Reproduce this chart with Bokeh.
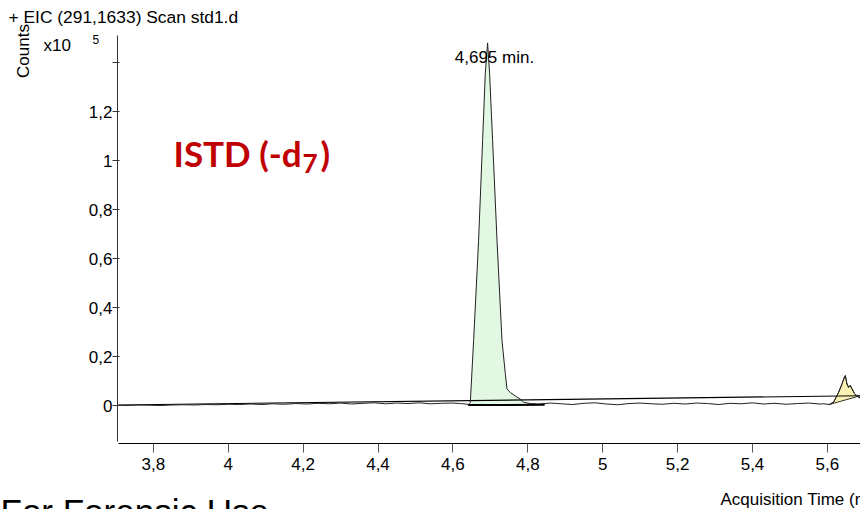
import math
from bokeh.plotting import figure
from bokeh.models import Range1d, FixedTicker
from bokeh.core.properties import value
from bokeh.embed import file_html
from bokeh.resources import INLINE

# ---------------- data ----------------
# chromatogram trace (time in min, counts x10^5)
t_pre = [3.707, 3.73, 3.76, 3.79, 3.82, 3.85, 3.88, 3.91, 3.94, 3.97, 4.00, 4.03,
         4.06, 4.09, 4.12, 4.15, 4.18, 4.21, 4.24, 4.27, 4.30, 4.33, 4.36, 4.39,
         4.42, 4.45, 4.48, 4.51, 4.54, 4.57, 4.60, 4.62, 4.635]
v_pre = [0.001, 0.000, 0.002, 0.001, 0.000, 0.002, 0.003, 0.002, 0.004, 0.003, 0.005, 0.004,
         0.006, 0.004, 0.007, 0.005, 0.008, 0.006, 0.009, 0.007, 0.010, 0.006, 0.009, 0.011,
         0.007, 0.010, 0.008, 0.011, 0.007, 0.009, 0.010, 0.008, 0.006]

t_peak = [4.641, 4.6465, 4.6553, 4.6686, 4.6793, 4.6865, 4.6926, 4.698, 4.706,
          4.7178, 4.7311, 4.7399, 4.7444, 4.7533, 4.7712, 4.780, 4.789]
v_peak = [0.004, 0.013, 0.265, 0.673, 1.082, 1.355, 1.480, 1.355, 1.082,
          0.673, 0.265, 0.131, 0.068, 0.053, 0.034, 0.027, 0.013]

t_post = [4.807, 4.83, 4.86, 4.89, 4.92, 4.95, 4.98, 5.01, 5.04, 5.07, 5.10, 5.13,
          5.16, 5.19, 5.22, 5.25, 5.28, 5.31, 5.34, 5.37, 5.40, 5.43, 5.46, 5.49,
          5.52, 5.55, 5.58, 5.59]
v_post = [0.008, 0.006, 0.010, 0.007, 0.004, 0.009, 0.011, 0.006, 0.003, 0.008, 0.010, 0.007,
          0.005, 0.009, 0.006, 0.010, 0.008, 0.004, 0.009, 0.007, 0.011, 0.006, 0.009, 0.005,
          0.008, 0.010, 0.006, 0.007]

t_peak2 = [5.605, 5.6165, 5.630, 5.639, 5.6459, 5.6478, 5.6523, 5.6566, 5.6611,
           5.6657, 5.6726, 5.6833, 5.688]
v_peak2 = [0.004, 0.0135, 0.054, 0.088, 0.118, 0.122, 0.088, 0.074, 0.082,
           0.068, 0.048, 0.034, 0.030]

# integration baselines
base1_t = [4.641, 4.845]
base1_v = [0.002, 0.003]
base2_t = [5.605, 5.688]
base2_v = [0.004, 0.040]

# long straight reference line
ref_t = [3.707, 5.688]
ref_v = [0.002, 0.040]

peak_rt = 4.695
peak_text = "4,695 min."

x_ticks = [3.8, 4.0, 4.2, 4.4, 4.6, 4.8, 5.0, 5.2, 5.4, 5.6]
x_tick_labels = ["3,8", "4", "4,2", "4,4", "4,6", "4,8", "5", "5,2", "5,4", "5,6"]
y_ticks = [0, 0.2, 0.4, 0.6, 0.8, 1.0, 1.2, 1.4]
y_tick_labels = ["0", "0,2", "0,4", "0,6", "0,8", "1", "1,2", ""]

# ---------------- layout (pixel <-> data) ----------------
W, H = 860, 509
SX, SY = 374.5, 245.0          # px per minute, px per 1e5 counts
X_START = 3.8 - 152.8 / SX     # data x at canvas left
Y_TOP = 405.0 / SY             # data y at canvas top


def tx(X):
    return X_START + X / SX


def ty(Y):
    return (405.0 - Y) / SY


FONT = "Liberation Sans"

p = figure(width=W, height=H, output_backend="svg", toolbar_location=None,
           x_range=Range1d(X_START, tx(W)), y_range=Range1d(ty(H), Y_TOP),
           min_border=0, min_border_left=0, min_border_right=0,
           min_border_top=0, min_border_bottom=0)
p.outline_line_color = None
p.xgrid.visible = False
p.ygrid.visible = False
p.background_fill_color = "white"
p.border_fill_color = "white"

xa = p.xaxis[0]
xa.fixed_location = ty(443)
xa.bounds = (tx(118), tx(W))
xa.ticker = FixedTicker(ticks=x_ticks)
xa.major_label_overrides = dict(zip(x_ticks, x_tick_labels))
xa.minor_tick_line_color = None
xa.major_tick_in = 0
xa.major_tick_out = 9
xa.major_tick_line_color = "#555555"
xa.axis_line_color = "black"
xa.major_label_standoff = 5
xa.major_label_text_font = FONT
xa.major_label_text_font_size = "17px"
xa.major_label_text_color = "black"

ya = p.yaxis[0]
ya.fixed_location = tx(117)
ya.bounds = (ty(441), ty(35))
ya.ticker = FixedTicker(ticks=y_ticks)
ya.major_label_overrides = dict(zip(y_ticks, y_tick_labels))
ya.minor_tick_line_color = None
ya.major_tick_in = 2
ya.major_tick_out = 5
ya.major_tick_line_color = "#333333"
ya.axis_line_color = "#333333"
ya.major_label_standoff = 0
ya.major_label_text_font = FONT
ya.major_label_text_font_size = "17px"
ya.major_label_text_color = "black"

# fills
p.patch(t_peak + base1_t[::-1][:1], v_peak + base1_v[::-1][:1],
        fill_color="#E2F8E2", line_color=None)
p.patch(t_peak2 + base2_t[::-1], v_peak2 + base2_v[::-1],
        fill_color="#FAF2B4", line_color="black", line_width=0.8)

# reference straight line
p.line(ref_t, ref_v, line_color="black", line_width=1.1)

# trace
p.line(t_pre + t_peak + t_post + t_peak2, v_pre + v_peak + v_post + v_peak2,
       line_color="#222222", line_width=1)

# integration baseline of main peak
p.line(base1_t, base1_v, line_color="black", line_width=2)

# peak label
p.text(x=[peak_rt], y=[max(v_peak)], text=[peak_text], x_offset=6, y_offset=15,
       text_font=value(FONT), text_font_size="17px", text_align="center",
       text_baseline="middle", text_color="black")


def lab(X, Y, text, size="17px", font=FONT, color="black", style="normal",
        align="left", baseline="middle", angle=0.0):
    p.text(x=[tx(X)], y=[ty(Y)], text=[text], text_font=value(font),
           text_font_size=size, text_color=color, text_font_style=style,
           text_align=align, text_baseline=baseline, angle=angle)


lab(8, 16.5, "+ EIC (291,1633) Scan std1.d", size="17.4px")
lab(43, 45, "x10")
lab(92, 39, "5", size="12px")
lab(23, 50.5, "Counts", align="center", angle=math.pi / 2)
lab(720, 499, "Acquisition Time (min)")
lab(0, 510.5, "For Forensic Use", size="35px")

# ISTD annotation
RED = "#C00000"
lab(173, 152, "ISTD (-d", size="35px", font="Lato", color=RED, style="bold")
lab(302, 163, "7", size="26px", font="Lato", color=RED, style="bold")
lab(320, 152, ")", size="35px", font="Lato", color=RED, style="bold")

open("out.html", "w").write(file_html(p, INLINE))
